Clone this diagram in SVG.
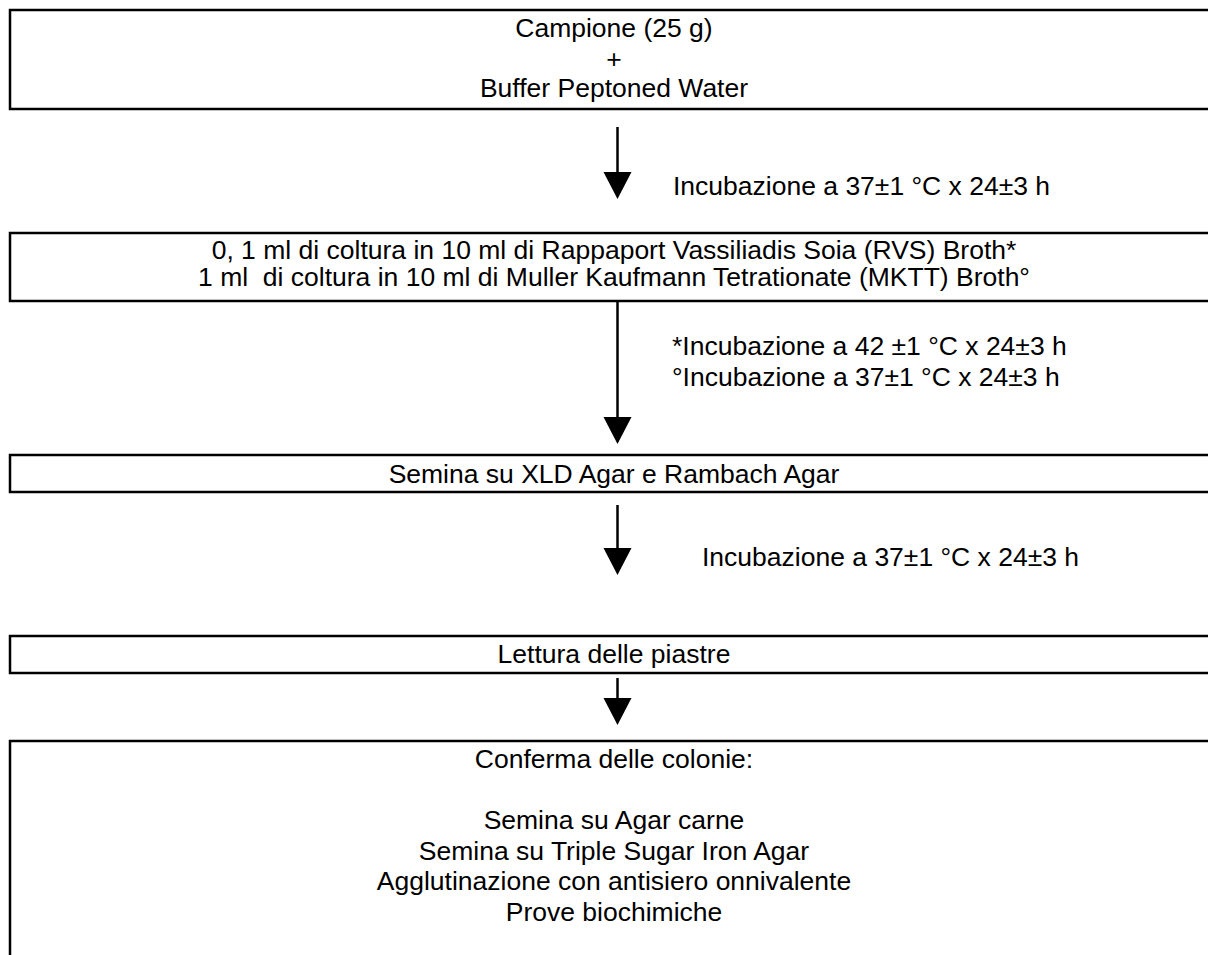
<svg xmlns="http://www.w3.org/2000/svg" width="1208" height="955" viewBox="0 0 1208 955">
<style>
.box{fill:#fff;stroke:#000;stroke-width:2.5}
.t{font-family:"Liberation Sans",Arial,sans-serif;font-size:26.5px;fill:#000}
.c{text-anchor:middle}
.ln{stroke:#000;stroke-width:2.5;fill:none}
.head{fill:#000}
</style>
<rect width="1208" height="955" fill="#fff"/>
<g id="node1">
<rect class="box" x="10" y="10" width="1230" height="99"/>
<text class="t c" x="614" y="37">Campione (25 g)</text>
<text class="t c" x="614" y="68">+</text>
<text class="t c" x="614" y="97">Buffer Peptoned Water</text>
</g>
<g id="node2">
<rect class="box" x="10" y="233" width="1230" height="68"/>
<text class="t c" x="614" y="259">0, 1 ml di coltura in 10 ml di Rappaport Vassiliadis Soia (RVS) Broth*</text>
<text class="t c" x="614" y="286" xml:space="preserve">1 ml  di coltura in 10 ml di Muller Kaufmann Tetrationate (MKTT) Broth°</text>
</g>
<g id="node3">
<rect class="box" x="10" y="455" width="1230" height="37"/>
<text class="t c" x="614" y="483">Semina su XLD Agar e Rambach Agar</text>
</g>
<g id="node4">
<rect class="box" x="10" y="636" width="1230" height="37"/>
<text class="t c" x="614" y="663">Lettura delle piastre</text>
</g>
<g id="node5">
<rect class="box" x="10" y="741" width="1230" height="300"/>
<text class="t c" x="614" y="768">Conferma delle colonie:</text>
<text class="t c" x="614" y="829">Semina su Agar carne</text>
<text class="t c" x="614" y="860">Semina su Triple Sugar Iron Agar</text>
<text class="t c" x="614" y="890">Agglutinazione con antisiero onnivalente</text>
<text class="t c" x="614" y="921">Prove biochimiche</text>
</g>
<g id="connectors">
<line class="ln" x1="617.5" y1="127" x2="617.5" y2="175"/>
<path class="head" d="M603.5,172 L631.5,172 L617.5,199 Z"/>
<line class="ln" x1="617.5" y1="301" x2="617.5" y2="420"/>
<path class="head" d="M603.5,417 L631.5,417 L617.5,444 Z"/>
<line class="ln" x1="617.5" y1="505" x2="617.5" y2="551"/>
<path class="head" d="M603.5,548 L631.5,548 L617.5,575 Z"/>
<line class="ln" x1="617.5" y1="678" x2="617.5" y2="701"/>
<path class="head" d="M603.5,698 L631.5,698 L617.5,725 Z"/>
<text class="t" x="673" y="195">Incubazione a 37±1 °C x 24±3 h</text>
<text class="t" x="672" y="355">*Incubazione a 42 ±1 °C x 24±3 h</text>
<text class="t" x="672" y="386">°Incubazione a 37±1 °C x 24±3 h</text>
<text class="t" x="702" y="566">Incubazione a 37±1 °C x 24±3 h</text>
</g>
</svg>
